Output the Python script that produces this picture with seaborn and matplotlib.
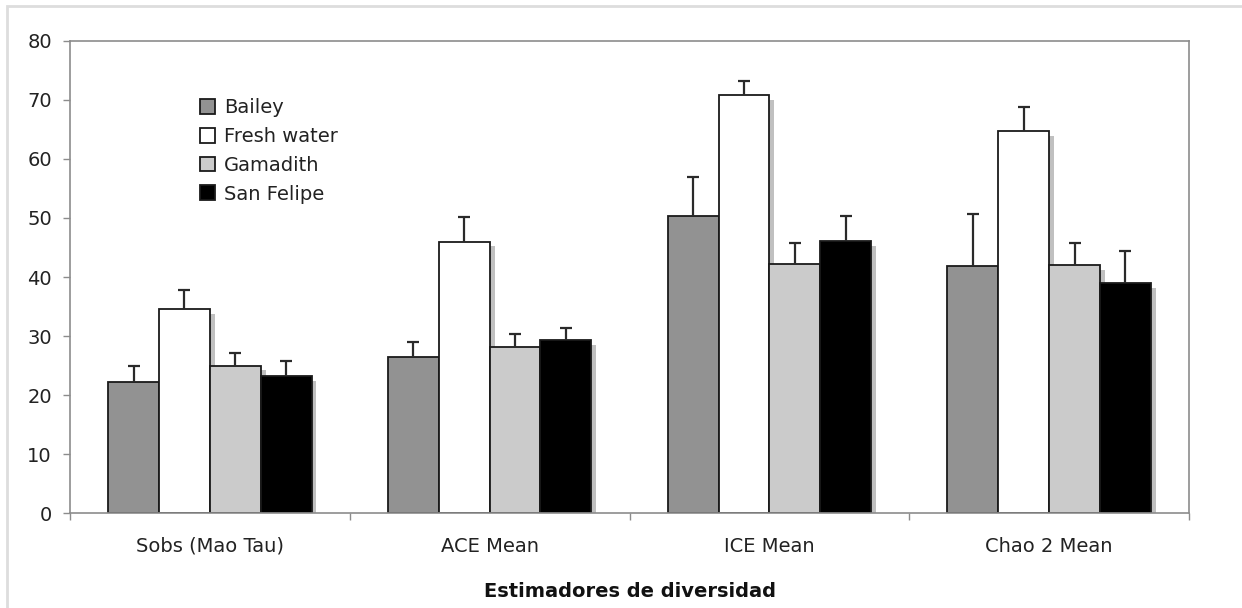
import matplotlib
matplotlib.use("Agg")
import matplotlib.pyplot as plt
import matplotlib.patheffects as pe
from matplotlib.patches import Rectangle
import pandas as pd
import seaborn as sns

# Valores
estimadores = ["Sobs (Mao Tau)", "ACE Mean", "ICE Mean", "Chao 2 Mean"]
sitios = ["Bailey", "Fresh water", "Gamadith", "San Felipe"]
colores = ["#929292", "#ffffff", "#cbcbcb", "#000000"]

bailey = [22.2, 26.5, 50.4, 41.9]
fresh_water = [34.5, 46.0, 70.8, 64.7]
gamadith = [25.0, 28.2, 42.2, 42.0]
san_felipe = [23.3, 29.3, 46.1, 39.0]

err_bailey = [2.8, 2.5, 6.6, 8.8]
err_fresh_water = [3.3, 4.1, 2.3, 4.0]
err_gamadith = [2.1, 2.1, 3.5, 3.7]
err_san_felipe = [2.5, 2.1, 4.3, 5.4]

valores = [bailey, fresh_water, gamadith, san_felipe]
errores = [err_bailey, err_fresh_water, err_gamadith, err_san_felipe]

df = pd.DataFrame(
    [
        {"estimador": est, "sitio": sitio, "valor": v}
        for sitio, serie in zip(sitios, valores)
        for est, v in zip(estimadores, serie)
    ]
)

sns.set_style("white")
plt.rcParams["font.family"] = ["DejaVu Sans"]

fig = plt.figure(figsize=(12.42, 6.08), dpi=100)
ax = fig.add_axes([0.0564, 0.1558, 0.9009, 0.7772])

sns.barplot(
    data=df,
    x="estimador",
    y="valor",
    hue="sitio",
    order=estimadores,
    hue_order=sitios,
    palette=colores,
    errorbar=None,
    width=0.727,
    edgecolor="#1a1a1a",
    linewidth=1.3,
    saturation=1,
    ax=ax,
)

# sombra gris a la derecha de cada barra, como en Excel
sombra = [pe.SimplePatchShadow(offset=(3.5, -3.5), shadow_rgbFace="#c0c0c0", alpha=1), pe.Normal()]
for cont, err in zip(ax.containers, errores):
    xs, hs = [], []
    for bar in cont:
        bar.set_path_effects(sombra)
        xs.append(bar.get_x() + bar.get_width() / 2)
        hs.append(bar.get_height())
    _, caps, _ = ax.errorbar(
        xs, hs, yerr=[[0] * len(err), err], fmt="none",
        ecolor="#2a2a2a", elinewidth=1.6, capsize=4.5, capthick=1.6, zorder=5,
    )
    caps[0].set_visible(False)  # solo la barra superior

ax.set_ylim(0, 80)
ax.set_yticks(range(0, 81, 10))
ax.set_xlim(-0.5, 3.5)
ax.set_xticks([-0.5, 0.5, 1.5, 2.5, 3.5], minor=True)

for side in ["left", "bottom", "top", "right"]:
    ax.spines[side].set_visible(True)
    ax.spines[side].set_color("#8c8c8c")
    ax.spines[side].set_linewidth(1.2)

ax.tick_params(axis="y", direction="out", length=5, width=1, color="#8c8c8c",
               labelsize=14, labelcolor="#222222", pad=8, left=True)
ax.tick_params(axis="x", which="major", length=0, labelsize=14, labelcolor="#222222", pad=17)
ax.tick_params(axis="x", which="minor", direction="out", length=5, width=1, color="#8c8c8c", bottom=True)

ax.set_ylabel("")
ax.set_xlabel("Estimadores de diversidad", fontsize=14, fontweight="bold", color="#111111", labelpad=19)

leg = ax.legend(
    loc="upper left", bbox_to_anchor=(0.116, 0.878), frameon=False,
    fontsize=14, handlelength=0.78, handleheight=0.78, handletextpad=0.45,
    labelspacing=0.5, borderpad=0, borderaxespad=0,
)
for t in leg.get_texts():
    t.set_color("#222222")

# borde exterior del area del grafico
fig.patches.append(Rectangle((7 / 1242, -0.05), 1.2, 1 - 6 / 608 + 0.05, transform=fig.transFigure,
                             fill=False, edgecolor="#dddddd", linewidth=2, zorder=0))

fig.savefig("out.png", dpi=100)
